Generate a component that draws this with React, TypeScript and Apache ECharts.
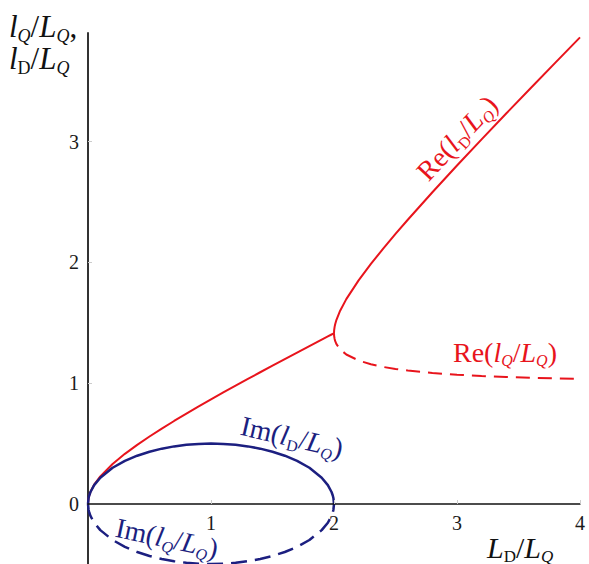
import React, { useEffect, useRef } from "react";
import * as echarts from "echarts";

// x = L_D / L_Q, left of the branch point (complex pair)
const xLeft = [0, 0.005, 0.01, 0.02, 0.05, 0.1, 0.2, 0.3, 0.4, 0.5, 0.6, 0.7, 0.8, 0.9, 1.0, 1.1, 1.2, 1.3, 1.4, 1.5, 1.6, 1.7, 1.8, 1.9, 1.95, 1.98, 1.99, 1.995, 2.0];
// Re(l_D/L_Q) = Re(l_Q/L_Q) for x < 2
const reLeft = [0, 0.0501, 0.0709, 0.1005, 0.1601, 0.2291, 0.3317, 0.4153, 0.4899, 0.559, 0.6245, 0.6874, 0.7483, 0.8078, 0.866, 0.9233, 0.9798, 1.0356, 1.0909, 1.1456, 1.2, 1.254, 1.3077, 1.3611, 1.3877, 1.4036, 1.4089, 1.4116, 1.4142];
// Im(l_D/L_Q)
const imD = [0, 0.0499, 0.0705, 0.0995, 0.1561, 0.2179, 0.3, 0.3571, 0.4, 0.433, 0.4583, 0.477, 0.4899, 0.4975, 0.5, 0.4975, 0.4899, 0.477, 0.4583, 0.433, 0.4, 0.3571, 0.3, 0.2179, 0.1561, 0.0995, 0.0705, 0.0499, 0];
// Im(l_Q/L_Q)
const imQ = [0, -0.0499, -0.0705, -0.0995, -0.1561, -0.2179, -0.3, -0.3571, -0.4, -0.433, -0.4583, -0.477, -0.4899, -0.4975, -0.5, -0.4975, -0.4899, -0.477, -0.4583, -0.433, -0.4, -0.3571, -0.3, -0.2179, -0.1561, -0.0995, -0.0705, -0.0499, 0];

// x right of the branch point (two real roots)
const xRight = [2, 2.001, 2.005, 2.01, 2.02, 2.05, 2.1, 2.2, 2.3, 2.4, 2.5, 2.6, 2.8, 3.0, 3.2, 3.4, 3.6, 3.8, 4.0];
const reDRight = [1.4142, 1.4371, 1.4669, 1.4904, 1.5253, 1.6008, 1.6963, 1.8515, 1.9878, 2.1147, 2.2361, 2.3537, 2.5814, 2.8025, 3.0194, 3.2333, 3.445, 3.655, 3.8637];
const reQRight = [1.4142, 1.3924, 1.3668, 1.3486, 1.3243, 1.2806, 1.238, 1.1882, 1.1571, 1.1349, 1.118, 1.1047, 1.0847, 1.0705, 1.0598, 1.0516, 1.045, 1.0397, 1.0353];

const xTicks = [1, 2, 3, 4];
const yTicks = [0, 1, 2, 3];

const RED = "#e8141c";
const BLUE = "#1c1f80";
const SERIF = '"Liberation Serif", "Times New Roman", serif';

function richSet(size: number, sub: number, pad: number, color: string) {
  return {
    n: { fontFamily: SERIF, fontSize: size, fill: color },
    i: { fontFamily: SERIF, fontSize: size, fontStyle: "italic", fill: color },
    si: { fontFamily: SERIF, fontSize: sub, fontStyle: "italic", fill: color, padding: [pad, 0, 0, 0] },
    sr: { fontFamily: SERIF, fontSize: sub, fill: color, padding: [pad, 0, 0, 0] },
  };
}

function label(text: string, x: number, y: number, rotDeg: number, size: number, color: string, align = "center") {
  return {
    type: "text",
    x,
    y,
    rotation: (rotDeg * Math.PI) / 180,
    z: 10,
    style: {
      text,
      rich: richSet(size, Math.round(size * 0.58), Math.round(size * 0.6), color),
      fill: color,
      fontFamily: SERIF,
      fontSize: size,
      align,
      verticalAlign: "middle",
    },
  };
}

export default function App() {
  const ref = useRef<HTMLDivElement>(null);

  useEffect(() => {
    if (!ref.current) return;
    const chart = echarts.init(ref.current, undefined, { renderer: "svg" });

    const reD = [
      ...xLeft.map((x, i) => [x, reLeft[i]]),
      ...xRight.slice(1).map((x, i) => [x, reDRight[i + 1]]),
    ];
    const reQ = xRight.map((x, i) => [x, reQRight[i]]);
    const imDData = xLeft.map((x, i) => [x, imD[i]]);
    const imQData = xLeft.map((x, i) => [x, imQ[i]]);

    const axisLabelStyle = { fontFamily: SERIF, fontSize: 20, color: "#1a1a1a" };

    chart.setOption({
      animation: false,
      grid: [
        // upper part: y from 0 to 3.9
        { left: 88, right: 9, top: 33, height: 471, containLabel: false, outerBoundsMode: "none" },
        // lower part: y from -0.5 to 0
        { left: 88, right: 9, top: 504, height: 60, containLabel: false, outerBoundsMode: "none" },
      ],
      xAxis: [
        {
          type: "value",
          gridIndex: 0,
          min: 0,
          max: 4,
          position: "bottom",
          splitLine: { show: false },
          axisLine: { onZero: false, lineStyle: { color: "#111", width: 1.5 } },
          axisTick: { show: true, inside: true, length: 4, customValues: xTicks, lineStyle: { color: "#ccc" } },
          axisLabel: { customValues: xTicks, margin: 9, ...axisLabelStyle },
          z: 5,
        },
        {
          type: "value",
          gridIndex: 1,
          min: 0,
          max: 4,
          show: false,
          splitLine: { show: false },
        },
      ],
      yAxis: [
        {
          type: "value",
          gridIndex: 0,
          min: 0,
          max: 3.9,
          splitLine: { show: false },
          axisLine: { onZero: false, lineStyle: { color: "#333", width: 2 } },
          axisTick: { show: true, inside: true, length: 4, customValues: [1, 2, 3], lineStyle: { color: "#ccc" } },
          axisLabel: { customValues: yTicks, margin: 9, ...axisLabelStyle },
        },
        {
          type: "value",
          gridIndex: 1,
          min: -0.5,
          max: 0,
          splitLine: { show: false },
          axisLine: { onZero: false, lineStyle: { color: "#333", width: 2 } },
          axisTick: { show: false },
          axisLabel: { show: false },
        },
      ],
      series: [
        {
          type: "line",
          xAxisIndex: 0,
          yAxisIndex: 0,
          data: reD,
          symbol: "none",
          clip: false,
          lineStyle: { color: RED, width: 2 },
          z: 2,
        },
        {
          type: "line",
          xAxisIndex: 0,
          yAxisIndex: 0,
          data: reQ,
          symbol: "none",
          clip: false,
          lineStyle: { color: RED, width: 2, type: [14, 8] },
          z: 2,
        },
        {
          type: "line",
          xAxisIndex: 0,
          yAxisIndex: 0,
          data: imDData,
          symbol: "none",
          clip: false,
          lineStyle: { color: BLUE, width: 2.5 },
          z: 3,
        },
        {
          type: "line",
          xAxisIndex: 1,
          yAxisIndex: 1,
          data: imQData,
          symbol: "none",
          clip: false,
          lineStyle: { color: BLUE, width: 2.5, type: [16, 8] },
          z: 3,
        },
      ],
      graphic: [
        label("{i|l}{si|Q}{n|/}{i|L}{si|Q}{n|,}", 9, 26, 0, 31, "#111", "left"),
        label("{i|l}{sr|D}{n|/}{i|L}{si|Q}", 9, 58, 0, 31, "#111", "left"),
        label("{i|L}{sr|D}{n|/}{i|L}{si|Q}", 487, 547, 0, 30, "#111", "left"),
        label("{n|Re(}{i|l}{sr|D}{n|/}{i|L}{si|Q}{n|)}", 457, 138, 47, 28, RED),
        label("{n|Re(}{i|l}{si|Q}{n|/}{i|L}{si|Q}{n|)}", 505, 352, 0, 28, RED),
        label("{n|Im(}{i|l}{sr|D}{n|/}{i|L}{si|Q}{n|)}", 292, 437, -13, 28, BLUE),
        label("{n|Im(}{i|l}{si|Q}{n|/}{i|L}{si|Q}{n|)}", 167, 538, -12, 28, BLUE),
      ],
    });

    return () => chart.dispose();
  }, []);

  return (
    <div
      ref={ref}
      style={{ position: "absolute", left: 0, top: 0, width: 589, height: 564 }}
    />
  );
}
